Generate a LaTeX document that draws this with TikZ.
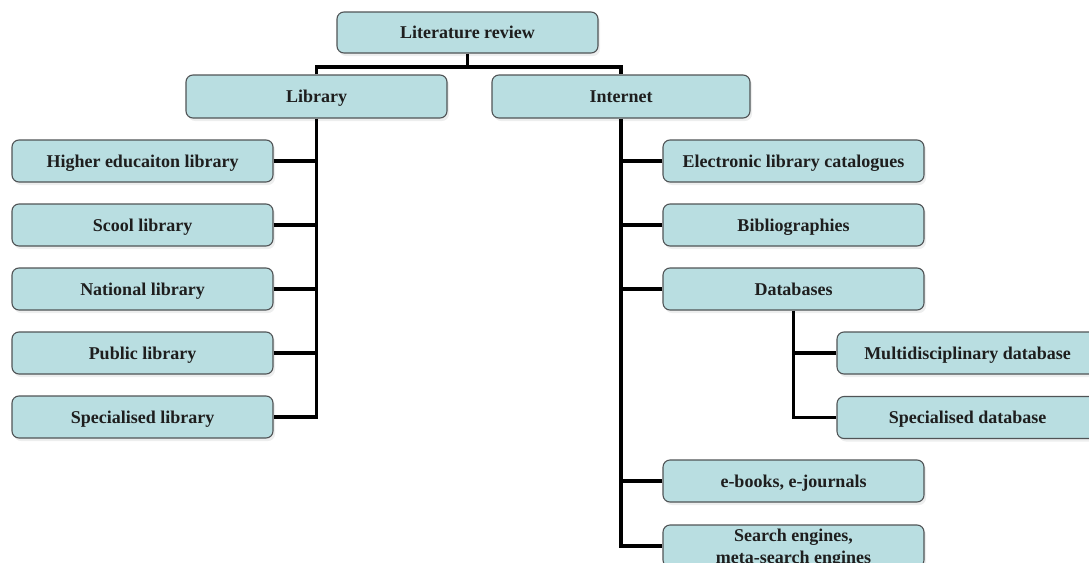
\documentclass[tikz,border=0pt]{standalone}
\usepackage{fontspec}
\setmainfont{Liberation Serif}
\usetikzlibrary{shadows}
\definecolor{boxfill}{RGB}{185,222,225}
\definecolor{boxline}{RGB}{80,84,86}
\definecolor{inktext}{RGB}{30,30,30}
\tikzset{
  topic/.style={draw=boxline, line width=1.1pt, fill=boxfill, rounded corners=7pt,
    minimum width=261pt, minimum height=42pt, inner sep=0pt, align=center,
    text height=12.5pt, text depth=0pt,
    text=inktext, font=\fontsize{18}{22}\selectfont\bfseries,
    drop shadow={shadow xshift=2pt, shadow yshift=-3pt, opacity=0.10, fill=boxline}},
  link/.style={line width=3.2pt, black, line join=miter}
}
\begin{document}
\begin{tikzpicture}[x=1pt, y=-1pt]
  \useasboundingbox (0,0) rectangle (1089,562);
  \clip (0,0) rectangle (1089,562);

  % top levels
  \node[topic, minimum height=41pt] (lit)  at (467.5,32.5) {Literature review};
  \node[topic, minimum height=43pt] (lib)  at (316.5,96.5) {Library};
  \node[topic, minimum height=43pt, minimum width=258pt] (inet) at (621,96.5) {Internet};

  % library branches
  \node[topic] (l1) at (142.5,161) {Higher educaiton library};
  \node[topic] (l2) at (142.5,225) {Scool library};
  \node[topic] (l3) at (142.5,289) {National library};
  \node[topic] (l4) at (142.5,353) {Public library};
  \node[topic] (l5) at (142.5,417) {Specialised library};

  % internet branches
  \node[topic] (i1) at (793.5,161) {Electronic library catalogues};
  \node[topic] (i2) at (793.5,225) {Bibliographies};
  \node[topic] (db) at (793.5,289) {Databases};
  \node[topic] (d1) at (967.5,353) {Multidisciplinary database};
  \node[topic] (d2) at (967.5,417.5) {Specialised database};
  \node[topic] (i4) at (793.5,481) {e-books, e-journals};
  % two-line box: first baseline just above the centre, second runs past the edge
  \node[topic, text height=34pt, text depth=-6pt] (i5) at (793.5,546)
    {Search engines,\\meta-search engines};

  % connectors
  \coordinate (split) at (467.5,67);
  \draw[link] (lit.south) -- (split);
  \draw[link] (lib.north) -- (lib.north |- split) -- (inet.north |- split) -- (inet.north);

  \draw[link] (lib.south) |- (l5.east);
  \foreach \n in {l1,l2,l3,l4}
    \draw[link] (\n.east) -- (\n.east -| lib.south);

  \draw[link] (inet.south) |- (i5.west);
  \foreach \n in {i1,i2,db,i4}
    \draw[link] (\n.west) -- (\n.west -| inet.south);

  \draw[link] (db.south) |- (d2.west);
  \draw[link] (d1.west) -- (d1.west -| db.south);
\end{tikzpicture}
\end{document}
